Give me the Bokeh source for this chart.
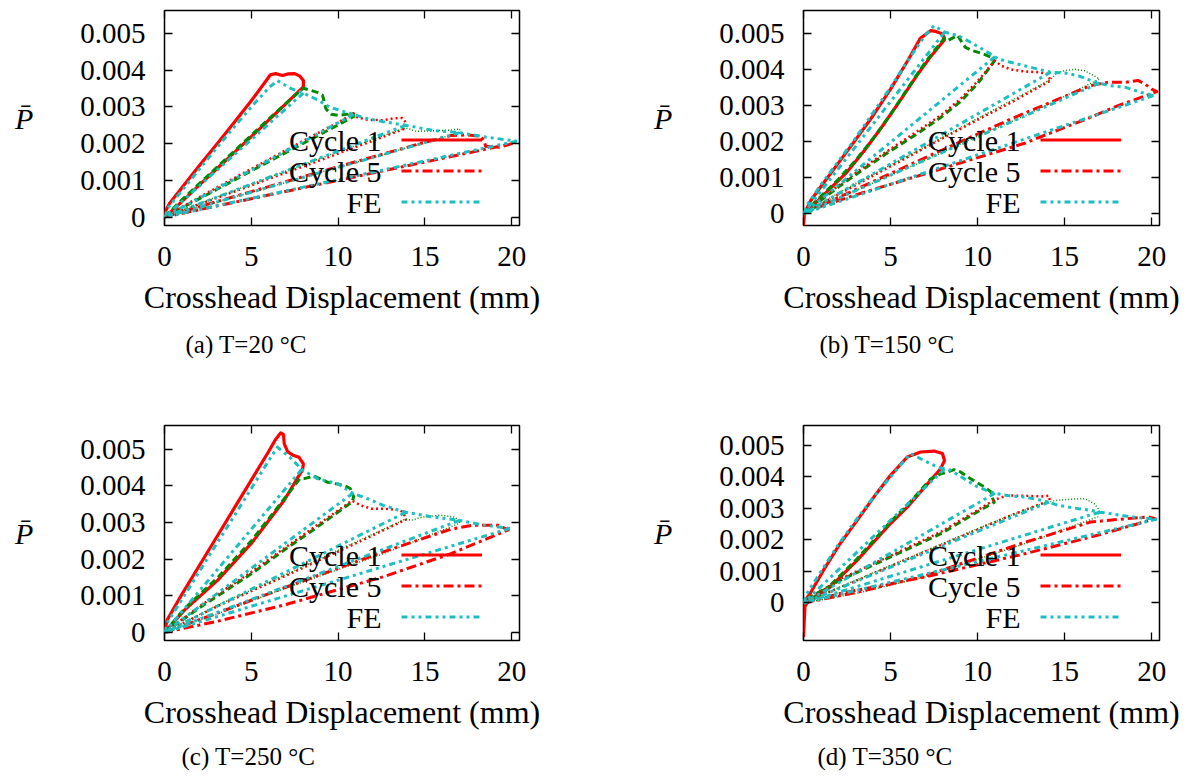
from bokeh.plotting import figure
from bokeh.layouts import column, row
from bokeh.models import (Range1d, FixedTicker, CustomJSTickFormatter, LinearAxis,
                          Label, Legend, LegendItem, Title)
from bokeh.embed import file_html
from bokeh.resources import INLINE

# ---------------- data ----------------
x_ticks = [0, 5, 10, 15, 20]
y_ticks = [0, 0.001, 0.002, 0.003, 0.004, 0.005]
legend_labels = ["Cycle 1", "Cycle 5", "FE"]
x_title = "Crosshead Displacement (mm)"
y_title = "P\u0304"
captions = ["(a) T=20 \u00b0C", "(b) T=150 \u00b0C", "(c) T=250 \u00b0C", "(d) T=350 \u00b0C"]
origin = 0.0

# Panel (a) T=20 C
a_c1_x = [0.0, 0.1, 0.3, 1.0, 2.0, 3.0, 4.0, 5.0, 5.8, 6.1, 6.4, 6.8, 7.1, 7.5, 7.8, 8.0, 8.0, 7.0, 6.0, 5.0, 4.0, 3.0, 2.0, 1.0, 0.3, 0.0]
a_c1_y = [0.0, 0.00020, 0.00038, 0.00080, 0.00140, 0.00198, 0.00257, 0.00317, 0.00368, 0.00388, 0.00391, 0.00386, 0.00390, 0.00391, 0.00384, 0.00372, 0.00355, 0.00309, 0.00264, 0.00219, 0.00175, 0.00131, 0.00087, 0.00042, 0.00011, 0.0]
a_c2_x = [0.0, 1.0, 2.0, 3.0, 4.0, 5.0, 6.0, 7.0, 8.0, 8.3, 8.8, 9.1, 9.2, 9.3, 9.6, 10.0, 10.5, 10.85, 10.9, 9.0, 7.0, 5.0, 3.0, 1.0, 0.0]
a_c2_y = [0.0, 0.00047, 0.00091, 0.00135, 0.00179, 0.00223, 0.00267, 0.00310, 0.00351, 0.00347, 0.00340, 0.00332, 0.00315, 0.00295, 0.00280, 0.00277, 0.00280, 0.00282, 0.00274, 0.00226, 0.00176, 0.00126, 0.00075, 0.00025, 0.0]
a_c3_x = [0.0, 2.0, 4.0, 6.0, 8.0, 10.0, 10.9, 11.1, 11.7, 12.6, 13.2, 13.7, 13.9, 13.9, 12.0, 10.0, 8.0, 6.0, 4.0, 2.0, 0.0]
a_c3_y = [0.0, 0.00054, 0.00106, 0.00157, 0.00208, 0.00258, 0.00283, 0.00272, 0.00265, 0.00264, 0.00269, 0.00270, 0.00258, 0.00242, 0.00208, 0.00173, 0.00138, 0.00104, 0.00069, 0.00035, 0.0]
a_c4_x = [0.0, 2.0, 4.0, 6.0, 8.0, 10.0, 12.0, 13.9, 14.5, 15.5, 16.5, 17.0, 17.0, 15.0, 12.0, 9.0, 6.0, 3.0, 0.0]
a_c4_y = [0.0, 0.00037, 0.00072, 0.00108, 0.00143, 0.00178, 0.00212, 0.00243, 0.00234, 0.00235, 0.00237, 0.00240, 0.00230, 0.00203, 0.00162, 0.00122, 0.00081, 0.00041, 0.0]
a_c5_x = [0.0, 3.0, 6.0, 9.0, 12.0, 15.0, 16.5, 17.4, 18.2, 18.4, 18.5, 19.3, 20.0, 17.0, 14.0, 11.0, 8.0, 5.0, 2.0, 0.0]
a_c5_y = [0.0, 0.00042, 0.00083, 0.00124, 0.00164, 0.00204, 0.00222, 0.00224, 0.00220, 0.00210, 0.00193, 0.00190, 0.00200, 0.00170, 0.00140, 0.00110, 0.00080, 0.00050, 0.00020, 0.0]
a_fe_x = [0.0, 0.2, 1.0, 2.0, 3.0, 4.0, 5.0, 6.0, 6.5, 7.3, 8.0, 8.8, 9.5, 10.3, 10.9, 11.5, 12.6, 13.9, 15.5, 17.0, 18.5, 20.3]
a_fe_y = [0.0, 0.00025, 0.00072, 0.00130, 0.00188, 0.00245, 0.00300, 0.00352, 0.00372, 0.00350, 0.00338, 0.00320, 0.00300, 0.00288, 0.00280, 0.00270, 0.00260, 0.00250, 0.00236, 0.00230, 0.00218, 0.00207]
a_fe_unload_x = [8.0, 10.9, 13.9, 17.0, 20.3]
a_fe_unload_y = [0.00338, 0.00280, 0.00250, 0.00230, 0.00207]

# Panel (b) T=150 C
b_c1_x = [0.0, 0.05, 0.4, 1.0, 2.0, 3.0, 4.0, 5.0, 6.0, 6.7, 7.1, 7.3, 7.6, 8.0, 8.1, 7.3, 6.5, 5.5, 4.5, 3.5, 2.5, 1.5, 0.7, 0.0]
b_c1_y = [-0.00035, 0.0, 0.00035, 0.00075, 0.00140, 0.00205, 0.00272, 0.00345, 0.00425, 0.00485, 0.00500, 0.00507, 0.00505, 0.00498, 0.00482, 0.00435, 0.00382, 0.00310, 0.00240, 0.00175, 0.00115, 0.00068, 0.00030, 0.0]
b_c2_x = [0.0, 1.0, 2.0, 3.0, 4.0, 5.0, 6.0, 7.0, 8.1, 8.3, 8.85, 9.1, 9.3, 9.7, 10.3, 10.8, 10.95, 10.0, 9.0, 7.9, 6.5, 5.0, 3.5, 2.1, 1.0, 0.0]
b_c2_y = [0.0, 0.00048, 0.00095, 0.00148, 0.00208, 0.00275, 0.00348, 0.00420, 0.00487, 0.00480, 0.00494, 0.00475, 0.00461, 0.00452, 0.00443, 0.00433, 0.00422, 0.00360, 0.00310, 0.00267, 0.00220, 0.00174, 0.00125, 0.00077, 0.00037, 0.0]
b_c3_x = [0.0, 1.0, 2.1, 3.5, 5.0, 6.5, 7.9, 9.0, 10.0, 11.0, 11.35, 11.9, 12.7, 13.5, 14.0, 14.2, 12.0, 10.0, 8.0, 6.0, 4.0, 2.0, 0.0]
b_c3_y = [0.0, 0.00041, 0.00081, 0.00130, 0.00179, 0.00227, 0.00273, 0.00317, 0.00367, 0.00424, 0.00410, 0.00400, 0.00394, 0.00392, 0.00387, 0.00369, 0.00310, 0.00260, 0.00209, 0.00157, 0.00105, 0.00053, 0.0]
b_c4_x = [0.0, 2.0, 4.0, 6.0, 8.0, 10.0, 12.0, 14.2, 14.6, 15.1, 15.6, 16.15, 16.7, 17.0, 15.0, 12.7, 10.0, 6.9, 4.0, 2.0, 0.0]
b_c4_y = [0.0, 0.00057, 0.00109, 0.00160, 0.00212, 0.00264, 0.00315, 0.00372, 0.00392, 0.00397, 0.00400, 0.00396, 0.00382, 0.00373, 0.00325, 0.00271, 0.00215, 0.00146, 0.00085, 0.00043, 0.0]
b_c5_x = [0.0, 4.0, 8.0, 12.0, 16.5, 17.5, 18.5, 19.2, 19.6, 20.0, 20.3, 18.0, 16.5, 14.0, 12.7, 10.0, 6.9, 3.0, 1.0, 0.0]
b_c5_y = [0.0, 0.00089, 0.00177, 0.00264, 0.00355, 0.00364, 0.00364, 0.00369, 0.00360, 0.00345, 0.00338, 0.00298, 0.00267, 0.00220, 0.00195, 0.00155, 0.00109, 0.00052, 0.00020, 0.0]
b_fe_x = [0.0, 0.3, 1.0, 2.0, 3.0, 4.0, 5.0, 6.0, 7.0, 7.5, 8.1, 8.85, 9.6, 10.4, 11.0, 11.15, 12.0, 12.7, 13.5, 14.2, 15.0, 15.8, 16.5, 17.0, 17.5, 18.5, 19.4, 20.1]
b_fe_y = [0.0, 0.00030, 0.00080, 0.00145, 0.00210, 0.00280, 0.00350, 0.00425, 0.00495, 0.00521, 0.00503, 0.00494, 0.00475, 0.00452, 0.00435, 0.00429, 0.00418, 0.00410, 0.00400, 0.00392, 0.00390, 0.00382, 0.00369, 0.00362, 0.00355, 0.00350, 0.00336, 0.00327]
b_fe_unload_x = [8.1, 11.0, 14.2, 17.0, 20.1]
b_fe_unload_y = [0.00503, 0.00435, 0.00392, 0.00362, 0.00327]

# Panel (c) T=250 C
c_c1_x = [0.0, 0.15, 1.0, 2.0, 3.0, 4.0, 5.0, 6.0, 6.4, 6.7, 6.85, 6.9, 7.1, 7.4, 7.75, 8.0, 7.95, 7.75, 6.9, 5.0, 3.07, 1.15, 0.0]
c_c1_y = [0.0, 0.00034, 0.00104, 0.00182, 0.00260, 0.00338, 0.00416, 0.00494, 0.00527, 0.00545, 0.00540, 0.00515, 0.00493, 0.00484, 0.00478, 0.00460, 0.00443, 0.00429, 0.00361, 0.00243, 0.00143, 0.00061, 0.0]
c_c2_x = [0.0, 1.15, 3.07, 5.0, 6.9, 7.8, 8.05, 8.6, 9.4, 10.3, 10.7, 10.9, 10.8, 8.8, 6.9, 5.0, 2.1, 0.0]
c_c2_y = [0.0, 0.00065, 0.00150, 0.00250, 0.00365, 0.00420, 0.00420, 0.00427, 0.00410, 0.00402, 0.00393, 0.00370, 0.00356, 0.00288, 0.00225, 0.00160, 0.00070, 0.0]
c_c3_x = [0.0, 2.1, 5.0, 6.9, 8.8, 10.8, 11.3, 11.9, 12.6, 13.6, 13.9, 13.9, 10.7, 6.9, 3.07, 0.0]
c_c3_y = [0.0, 0.00074, 0.00165, 0.00230, 0.00293, 0.00360, 0.00347, 0.00338, 0.00338, 0.00334, 0.00315, 0.00308, 0.00236, 0.00153, 0.00072, 0.0]
c_c4_x = [0.0, 3.07, 6.9, 10.7, 13.9, 14.2, 14.9, 15.9, 16.7, 17.0, 17.0, 12.6, 6.9, 3.0, 0.0]
c_c4_y = [0.0, 0.00075, 0.00156, 0.00240, 0.00310, 0.00306, 0.00315, 0.00320, 0.00315, 0.00306, 0.00298, 0.00215, 0.00120, 0.00050, 0.0]
c_c5_x = [0.0, 3.0, 6.9, 12.6, 16.5, 17.8, 19.2, 19.8, 16.5, 12.6, 6.9, 3.0, 0.0]
c_c5_y = [0.0, 0.00052, 0.00122, 0.00220, 0.00282, 0.00293, 0.00293, 0.00280, 0.00215, 0.00152, 0.00075, 0.00030, 0.0]
c_fe_x = [0.0, 0.2, 1.0, 2.0, 3.0, 4.0, 5.0, 6.0, 6.5, 7.3, 7.9, 8.8, 10.0, 10.7, 10.85, 11.7, 12.6, 13.9, 15.5, 17.0, 18.4, 19.9]
c_fe_y = [0.0, 0.00030, 0.00090, 0.00166, 0.00242, 0.00317, 0.00393, 0.00469, 0.00506, 0.00475, 0.00445, 0.00420, 0.00406, 0.00384, 0.00380, 0.00365, 0.00347, 0.00328, 0.00315, 0.00306, 0.00293, 0.00284]
c_fe_unload_x = [7.9, 10.85, 13.9, 17.0, 19.9]
c_fe_unload_y = [0.00445, 0.00380, 0.00328, 0.00306, 0.00284]

# Panel (d) T=350 C
d_c1_x = [0.0, 0.05, 0.1, 0.38, 1.15, 2.1, 3.08, 4.04, 5.0, 5.96, 6.73, 7.5, 7.98, 8.1, 7.88, 7.3, 5.96, 5.0, 3.08, 1.54, 0.77, 0.19, 0.0]
d_c1_y = [-0.00108, -0.00050, 0.00008, 0.00030, 0.00104, 0.00188, 0.00262, 0.00336, 0.00405, 0.00463, 0.00479, 0.00482, 0.00474, 0.00452, 0.00426, 0.00389, 0.00304, 0.00252, 0.00135, 0.00051, 0.00019, 0.0, -0.00020]
d_c2_x = [0.0, 0.77, 1.54, 3.08, 5.0, 5.96, 7.3, 7.9, 8.27, 8.65, 9.04, 9.6, 10.4, 10.77, 10.87, 10.96, 9.8, 7.9, 5.0, 2.1, 0.38, 0.0]
d_c2_y = [0.0, 0.00024, 0.00056, 0.00140, 0.00258, 0.00310, 0.00393, 0.00410, 0.00415, 0.00423, 0.00415, 0.00394, 0.00368, 0.00352, 0.00331, 0.00320, 0.00283, 0.00220, 0.00146, 0.00072, 0.00019, 0.0]
d_c3_x = [0.0, 2.1, 5.0, 7.9, 9.8, 11.0, 11.7, 12.7, 13.65, 14.1, 14.15, 12.0, 10.0, 8.0, 5.0, 3.0, 1.0, 0.0]
d_c3_y = [0.0, 0.00076, 0.00150, 0.00226, 0.00288, 0.00328, 0.00341, 0.00340, 0.00338, 0.00340, 0.00325, 0.00280, 0.00233, 0.00186, 0.00117, 0.00070, 0.00024, 0.0]
d_c4_x = [0.0, 3.0, 5.0, 8.0, 10.0, 12.0, 13.85, 14.6, 15.6, 16.15, 16.7, 17.0, 16.9, 12.7, 6.92, 3.0, 0.0]
d_c4_y = [0.0, 0.00072, 0.00119, 0.00189, 0.00236, 0.00280, 0.00318, 0.00326, 0.00330, 0.00331, 0.00315, 0.00294, 0.00273, 0.00188, 0.00082, 0.00030, 0.0]
d_c5_x = [0.0, 3.0, 6.92, 12.7, 16.5, 18.5, 19.8, 20.2, 16.5, 12.7, 6.92, 2.1, 0.0]
d_c5_y = [0.0, 0.00033, 0.00085, 0.00192, 0.00257, 0.00267, 0.00273, 0.00267, 0.00209, 0.00156, 0.00082, 0.00030, 0.0]
d_fe_x = [0.0, 0.2, 1.0, 2.0, 3.0, 4.0, 5.0, 6.15, 6.92, 7.7, 8.1, 8.46, 9.23, 10.0, 10.77, 11.0, 11.7, 12.7, 13.65, 14.1, 14.6, 15.8, 16.5, 17.0, 17.7, 18.8, 20.0, 20.3]
d_fe_y = [0.0, 0.00030, 0.00100, 0.00185, 0.00262, 0.00335, 0.00400, 0.00474, 0.00452, 0.00431, 0.00425, 0.00421, 0.00394, 0.00368, 0.00352, 0.00348, 0.00341, 0.00336, 0.00326, 0.00320, 0.00310, 0.00299, 0.00294, 0.00288, 0.00283, 0.00273, 0.00267, 0.00266]
d_fe_unload_x = [8.1, 11.0, 14.1, 17.0, 20.3]
d_fe_unload_y = [0.00425, 0.00348, 0.00320, 0.00288, 0.00266]

y_ranges = [(-0.00023, 0.00563), (-0.00033, 0.00563), (-0.00022, 0.00565), (-0.00119, 0.00563)]
x_max = 20.45

# ---------------- styles ----------------
FONT = "Liberation Serif"
RED = "#ff0000"
GREEN = "#008a00"
CYAN = "#1cbfbf"
styles = [
    dict(color=RED, width=3.2, dash="solid"),        # cycle 1
    dict(color=GREEN, width=3.0, dash="7 4"),        # cycle 2
    dict(color=RED, width=2.5, dash="2 3"),          # cycle 3
    dict(color=GREEN, width=1.5, dash="1 2"),        # cycle 4
    dict(color=RED, width=3.0, dash="10 4 3 4"),     # cycle 5
    dict(color=CYAN, width=3.0, dash="6 4 3 4 3 4"), # FE
]

cycles = [
    [(a_c1_x, a_c1_y), (a_c2_x, a_c2_y), (a_c3_x, a_c3_y), (a_c4_x, a_c4_y), (a_c5_x, a_c5_y)],
    [(b_c1_x, b_c1_y), (b_c2_x, b_c2_y), (b_c3_x, b_c3_y), (b_c4_x, b_c4_y), (b_c5_x, b_c5_y)],
    [(c_c1_x, c_c1_y), (c_c2_x, c_c2_y), (c_c3_x, c_c3_y), (c_c4_x, c_c4_y), (c_c5_x, c_c5_y)],
    [(d_c1_x, d_c1_y), (d_c2_x, d_c2_y), (d_c3_x, d_c3_y), (d_c4_x, d_c4_y), (d_c5_x, d_c5_y)],
]
fe = [
    (a_fe_x, a_fe_y, a_fe_unload_x, a_fe_unload_y),
    (b_fe_x, b_fe_y, b_fe_unload_x, b_fe_unload_y),
    (c_fe_x, c_fe_y, c_fe_unload_x, c_fe_unload_y),
    (d_fe_x, d_fe_y, d_fe_unload_x, d_fe_unload_y),
]

# geometry: (width, height, border_left, border_right, border_top, border_bottom,
#            caption_offset, caption_standoff)
geoms = [
    (640, 415, 164, 121, 10, 190, 21, 23),
    (554, 415, 163, 35, 10, 190, 16, 23),
    (640, 365, 164, 121, 10, 140, 17, 17),
    (554, 365, 163, 35, 10, 140, 14, 17),
]


def style_axis(ax, ticks, show_labels=True):
    ax.ticker = FixedTicker(ticks=ticks, minor_ticks=[])
    ax.axis_line_color = None
    ax.major_tick_in = 8
    ax.major_tick_out = 0
    ax.minor_tick_in = 0
    ax.minor_tick_out = 0
    ax.major_tick_line_color = "black"
    ax.major_tick_line_width = 1.3
    if not show_labels:
        ax.formatter = CustomJSTickFormatter(code="return '';")
        ax.major_label_text_font_size = "1px"
        ax.major_label_standoff = 0
    else:
        ax.major_label_text_font = FONT
        ax.major_label_text_font_size = "29px"
        ax.major_label_text_color = "black"


def make_panel(i):
    w, h, bl, br, bt, bb, cap_off, cap_stand = geoms[i]
    p = figure(width=w, height=h, x_range=Range1d(0, x_max), y_range=Range1d(*y_ranges[i]),
               output_backend="svg", toolbar_location=None,
               min_border_left=bl, min_border_right=br, min_border_top=bt, min_border_bottom=bb)
    p.grid.visible = False
    p.outline_line_color = "black"
    p.outline_line_width = 1.5
    p.outline_line_alpha = 1.0
    p.background_fill_color = "white"
    p.border_fill_color = "white"

    xa = p.xaxis[0]
    style_axis(xa, x_ticks)
    xa.major_label_standoff = 21
    xa.axis_label = x_title
    xa.axis_label_text_font = FONT
    xa.axis_label_text_font_size = "32px"
    xa.axis_label_text_font_style = "normal"
    xa.axis_label_text_color = "black"
    xa.axis_label_standoff = 10

    ya = p.yaxis[0]
    style_axis(ya, y_ticks)
    ya.formatter = CustomJSTickFormatter(code="return tick == 0 ? '0' : tick.toFixed(3);")
    ya.major_label_standoff = 19
    ya.axis_label = y_title
    ya.axis_label_text_font = FONT
    ya.axis_label_text_font_size = "30px"
    ya.axis_label_text_font_style = "italic"
    ya.axis_label_text_color = "black"
    ya.axis_label_standoff = 44
    try:
        ya.axis_label_orientation = "horizontal"
    except Exception:
        pass

    top = LinearAxis()
    style_axis(top, x_ticks, show_labels=False)
    p.add_layout(top, "above")
    right = LinearAxis()
    style_axis(right, y_ticks, show_labels=False)
    p.add_layout(right, "right")

    rends = []
    for (xs, ys), st in zip(cycles[i], styles[:5]):
        r = p.line(xs, ys, line_color=st["color"], line_width=st["width"], line_dash=st["dash"],
                   line_join="round")
        rends.append(r)
    fx, fy, ux, uy = fe[i]
    st = styles[5]
    p.multi_line([[u, origin] for u in ux], [[v, origin] for v in uy], line_color=st["color"],
                 line_width=st["width"], line_dash=st["dash"])
    r_fe = p.line(fx, fy, line_color=st["color"], line_width=st["width"], line_dash=st["dash"],
                  line_join="round")
    rends.append(r_fe)

    # legend: line samples from Bokeh's legend, texts placed to their left (gnuplot style)
    items = [LegendItem(label=" ", renderers=[rends[0]]),
             LegendItem(label=" ", renderers=[rends[4]]),
             LegendItem(label=" ", renderers=[rends[5]])]
    leg = Legend(items=items, location=(237, 8), glyph_width=81, glyph_height=31,
                 label_height=31, label_standoff=2, label_width=4, spacing=0, padding=0, margin=0,
                 background_fill_alpha=0, border_line_alpha=0, label_text_font_size="4px")
    p.add_layout(leg)
    for k, yy in enumerate([85.5, 54.5, 23.5]):
        p.add_layout(Label(x=217, y=yy, x_units="screen", y_units="screen", text=legend_labels[k],
                           text_font=FONT, text_font_size="30px", text_align="right",
                           text_baseline="middle", text_color="black"))

    # caption below the axis title
    p.add_layout(Title(text=captions[i], align="left", offset=cap_off, text_font=FONT,
                       text_font_size="25px", text_font_style="normal", text_color="black",
                       standoff=cap_stand), "below")
    return p


figs = [make_panel(i) for i in range(4)]
layout = column(row(figs[0], figs[1]), row(figs[2], figs[3]))

open("out.html", "w").write(file_html(layout, INLINE, title="Load-displacement cycles"))
